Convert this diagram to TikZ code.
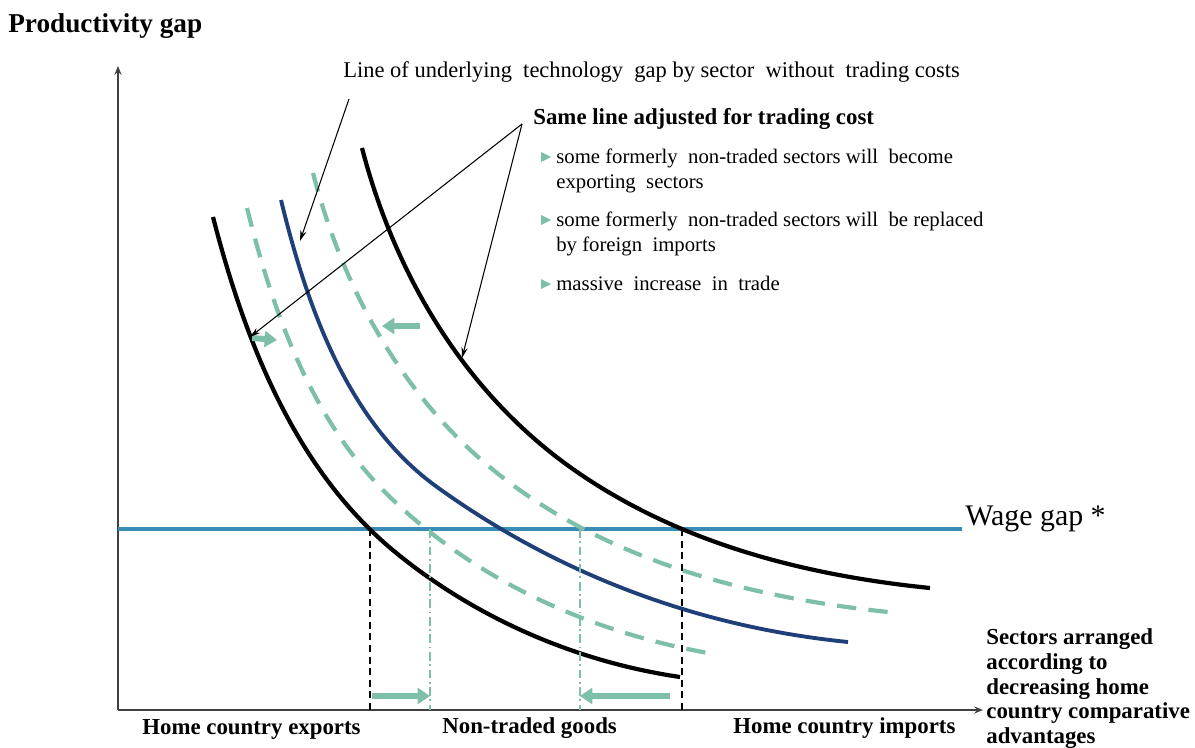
\documentclass[tikz,border=0pt]{standalone}
\usepackage{fontspec}
\setmainfont{Liberation Serif}
\usetikzlibrary{arrows.meta}

\definecolor{mint}{HTML}{7DBFA8}
\definecolor{navy}{HTML}{1F3F78}
\definecolor{wageblue}{HTML}{3A8CB4}
\definecolor{axisgray}{HTML}{404040}

\begin{document}
\begin{tikzpicture}[x=0.02cm, y=-0.02cm,
    curve/.style = {line width=2.4pt},
    shifted/.style = {mint, line width=2.4pt, dash pattern=on 11pt off 7pt},
    bound/.style = {black, line width=1.6pt, dash pattern=on 4pt off 2.6pt},
    newbound/.style = {mint, line width=1.2pt, dash pattern=on 5pt off 2pt on 1pt off 2pt},
    move/.style = {mint, line width=3.4pt, -{Triangle[length=7pt, width=9pt]}},
    pointer/.style = {black, line width=0.6pt, -{Stealth[length=6pt, width=3.5pt]}},
    axis/.style = {axisgray, line width=0.9pt, -{Stealth[length=5pt, width=4pt]}}]

    \useasboundingbox (0,0) rectangle (1195,747);

    {
        \tikzset{every node/.style = {inner sep=0pt, anchor=base west, align=left}}

        \node (title) at (8,32) {\fontsize{15.5}{18}\selectfont\bfseries Productivity gap};
        \node (techlabel) at (343,77) {\fontsize{12.8}{15}\selectfont Line of underlying \ technology \ gap by sector \ without \ trading costs};
        \node (samelabel) at (533,124) {\fontsize{13}{15}\selectfont\bfseries Same line adjusted for trading cost};
        \node (b1) at (556,163) {\fontsize{11.8}{14}\selectfont some formerly \ non-traded sectors will \ become};
        \node (b1b) at (556,188) {\fontsize{11.8}{14}\selectfont exporting \ sectors};
        \node (b2) at (556,226) {\fontsize{11.8}{14}\selectfont some formerly \ non-traded sectors will \ be replaced};
        \node (b2b) at (556,251) {\fontsize{11.8}{14}\selectfont by foreign \ imports};
        \node (b3) at (556,290) {\fontsize{11.8}{14}\selectfont massive \ increase \ in \ trade};
        \node (wagelabel) at (965,525) {\fontsize{17}{19}\selectfont Wage gap *};
        \node[anchor=north west, font=\fontsize{13}{14.17}\selectfont\bfseries] (sectors) at (986,628)
            {Sectors arranged\\ according to\\ decreasing home\\ country comparative\\ advantages};
        \node (exports) at (142,734) {\fontsize{13}{15}\selectfont\bfseries Home country exports};
        \node (nontraded) at (442,733) {\fontsize{13}{15}\selectfont\bfseries Non-traded goods};
        \node (imports) at (733,733) {\fontsize{13}{15}\selectfont\bfseries Home country imports};
    }

    % axes
    \coordinate (origin) at (118,710);
    \coordinate (ytop) at (118,66);
    \coordinate (xend) at (983,710);
    \draw[axis] (origin) -- (ytop);
    \draw[axis] (origin) -- (xend);

    % wage gap
    \coordinate (wstart) at (118,529);
    \coordinate (wend) at (962,529);
    \draw[wageblue, line width=2.8pt] (wstart) -- (wend);

    % technology gap lines
    \draw[curve] (213,217) .. controls (246,345) and (297,474) .. (400,556)
                           .. controls (480,620) and (578,662) .. (680,677);
    \draw[curve] (362,148) .. controls (395,275) and (464,391) .. (570,467)
                           .. controls (675,542) and (802,575) .. (930,588);
    \draw[navy, line width=2.2pt] (281,200) .. controls (307,307) and (348,423) .. (437,487)
                           .. controls (559,575) and (699,627) .. (848,642);
    \draw[shifted] (247,208) .. controls (274,316) and (313,424) .. (393,500)
                             .. controls (479,582) and (591,632) .. (708,653);
    \draw[shifted] (313,173) .. controls (343,289) and (403,398) .. (497,473)
                             .. controls (610,563) and (755,599) .. (898,613);

    % boundaries of traded sectors
    \coordinate (e1) at (370,529);
    \coordinate (e0) at (370,710);
    \coordinate (i1) at (682,529);
    \coordinate (i0) at (682,710);
    \coordinate (f1) at (430,529);
    \coordinate (f0) at (430,710);
    \coordinate (g1) at (580,529);
    \coordinate (g0) at (580,710);
    \draw[bound] (e1) -- (e0);
    \draw[bound] (i1) -- (i0);
    \draw[newbound] (f1) -- (f0);
    \draw[newbound] (g1) -- (g0);

    % shifts
    \coordinate (m1) at (372,696);
    \coordinate (m2) at (430,696);
    \coordinate (m3) at (670,696);
    \coordinate (m4) at (580,696);
    \coordinate (s1) at (252,338);
    \coordinate (s2) at (277,340);
    \coordinate (s3) at (420,326);
    \coordinate (s4) at (382,326);
    \draw[move] (m1) -- (m2);
    \draw[move] (m3) -- (m4);
    \draw[move] (s1) -- (s2);
    \draw[move] (s3) -- (s4);

    % bullets
    \foreach \yb in {157,220,284}
        \fill[mint] (541,\yb-5) -- (551,\yb) -- (541,\yb+5) -- cycle;

    % pointers
    \coordinate (techtip) at (349,99);
    \coordinate (sametip) at (522,124);
    \coordinate (navyhit) at (300,241);
    \coordinate (lowhit) at (250,337);
    \coordinate (highhit) at (462,358);
    \draw[pointer] (techtip) -- (navyhit);
    \draw[pointer] (sametip) -- (lowhit);
    \draw[pointer] (sametip) -- (highhit);

\end{tikzpicture}
\end{document}
